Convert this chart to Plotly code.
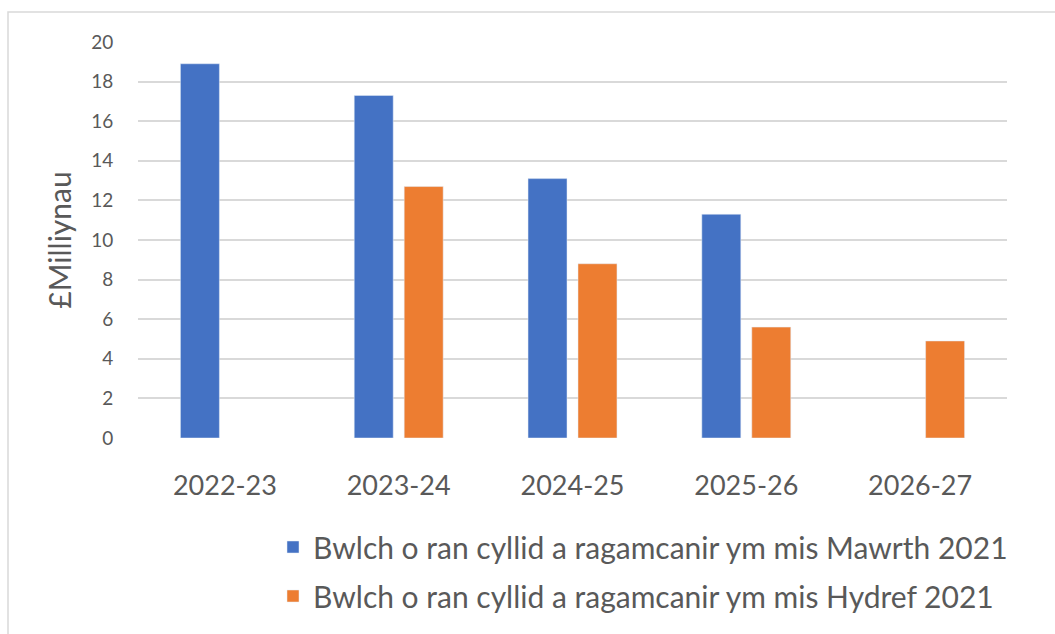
import plotly.graph_objects as go

categories = ["2022-23", "2023-24", "2024-25", "2025-26", "2026-27"]
series_mawrth_name = "Bwlch o ran cyllid a ragamcanir ym mis Mawrth 2021"
series_hydref_name = "Bwlch o ran cyllid a ragamcanir ym mis Hydref 2021"
mawrth_values = [18.9, 17.3, 13.1, 11.3, None]
hydref_values = [None, 12.7, 8.8, 5.6, 4.9]
y_ticks = [0, 2, 4, 6, 8, 10, 12, 14, 16, 18, 20]
y_title = "£Milliynau"

FONT = "Lato"
TXT = "#595959"
GRID = "#d9d9d9"

fig = go.Figure()
fig.add_trace(go.Bar(x=categories, y=mawrth_values, name=series_mawrth_name,
                     marker=dict(color="#4472C4"), legendgroup="a"))
fig.add_trace(go.Bar(x=categories, y=hydref_values, name=series_hydref_name,
                     marker=dict(color="#ED7D31"), legendgroup="b"))

fig.update_layout(
    width=1055, height=634,
    showlegend=True,
    margin=dict(l=138, r=48, t=42, b=196),
    paper_bgcolor="white", plot_bgcolor="white",
    barmode="group", bargap=0.425, bargroupgap=0.22,
    font=dict(family=FONT, color=TXT),
    legend=dict(x=(273 - 138) / 869, xanchor="left",
                y=(438 - 521) / 396, yanchor="top",
                traceorder="grouped", tracegroupgap=7,
                font=dict(family=FONT, size=30, color=TXT),
                bgcolor="rgba(0,0,0,0)"),
    xaxis=dict(showgrid=False, showline=False, zeroline=False,
               ticks="outside", ticklen=24, tickcolor="rgba(0,0,0,0)",
               tickfont=dict(family=FONT, size=27, color=TXT)),
    yaxis=dict(range=[0, 20], tickvals=y_ticks, showgrid=True, gridcolor=GRID,
               gridwidth=1.5, zeroline=False, showline=False,
               ticks="outside", ticklen=20, tickcolor="rgba(0,0,0,0)",
               tickfont=dict(family=FONT, size=19, color=TXT),
               title=dict(text=y_title, standoff=10,
                          font=dict(family=FONT, size=30, color=TXT))),
    shapes=[dict(type="rect", xref="paper", yref="paper",
                 x0=(8 - 138) / 869, x1=1.2, y0=-0.7, y1=1 + 30 / 396,
                 line=dict(color=GRID, width=1.5), layer="below")],
)

fig.write_html("out.html", config={"displayModeBar": False},
               post_script="document.body.style.margin='0';document.body.style.overflow='hidden';")
